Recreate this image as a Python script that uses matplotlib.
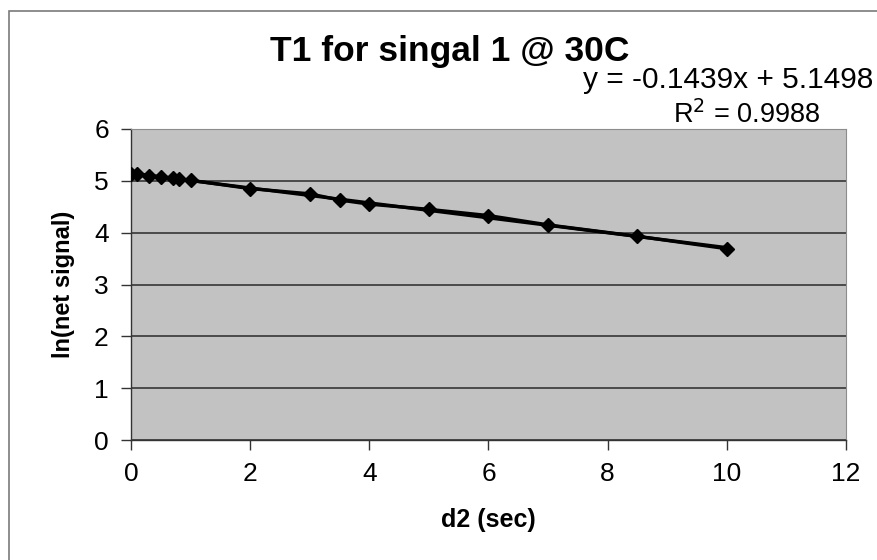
import matplotlib
matplotlib.use("Agg")
import matplotlib.pyplot as plt
from matplotlib.patches import Rectangle
import numpy as np

plt.rcParams['font.family'] = ['Liberation Sans', 'DejaVu Sans']

# Data
d2_sec = [0, 0.1, 0.3, 0.5, 0.7, 0.8, 1, 2, 3, 3.5, 4, 5, 6, 7, 8.5, 10]
ln_signal = [5.13, 5.13, 5.10, 5.07, 5.06, 5.03, 5.01, 4.85, 4.75, 4.63,
             4.55, 4.45, 4.33, 4.15, 3.93, 3.69]
slope = -0.1439
intercept = 5.1498
r2 = 0.9988
x_ticks = [0, 2, 4, 6, 8, 10, 12]
y_ticks = [0, 1, 2, 3, 4, 5, 6]

W, H = 878, 560
fig = plt.figure(figsize=(W / 100, H / 100), dpi=100)
fig.patch.set_facecolor('white')

# outer chart border (extends past right/bottom edges)
fig.patches.append(Rectangle((9 / W, -0.1), 1.2, 1 - 11 / H + 0.1,
                             transform=fig.transFigure, fill=False,
                             edgecolor='#7a7a7a', linewidth=1.2))

left, right, top, bottom = 131, 846, 129, 440
ax = fig.add_axes([left / W, 1 - bottom / H, (right - left) / W, (bottom - top) / H])
ax.set_facecolor('#c2c2c2')

ax.set_xlim(0, 12)
ax.set_ylim(0, 6)
ax.set_xticks(x_ticks)
ax.set_yticks(y_ticks)
ax.tick_params(axis='both', direction='out', length=7, width=1, color='#333333',
               labelsize=19, pad=9)
ax.yaxis.grid(True, color='#2a2a2a', linewidth=1.1)
ax.set_axisbelow(True)

for s in ['top', 'right']:
    ax.spines[s].set_color('#8c8c8c')
    ax.spines[s].set_linewidth(0.8)
for s in ['left', 'bottom']:
    ax.spines[s].set_color('#333333')
    ax.spines[s].set_linewidth(1.0)

# trendline
xt = np.array([min(d2_sec), max(d2_sec)])
ax.plot(xt, slope * xt + intercept, color='black', linewidth=2.4, zorder=3)
# data
ax.plot(d2_sec, ln_signal, color='black', linewidth=2.4, marker='D',
        markersize=7.5, zorder=4)

ax.set_xlabel('d2 (sec)', fontsize=18, fontweight='bold', labelpad=16)
ax.set_ylabel('ln(net signal)', fontsize=17, fontweight='bold', labelpad=14)

fig.text(450 / W, 1 - 51 / H, 'T1 for singal 1 @ 30C', fontsize=25.5,
         fontweight='bold', ha='center', va='center')
fig.text(583 / W, 1 - 80 / H, 'y = -0.1439x + 5.1498', fontsize=21.5,
         ha='left', va='center')
fig.text(673 / W, 1 - 115 / H, 'R$^2$ = 0.9988', fontsize=19.5,
         ha='left', va='center')

fig.savefig('out.png', dpi=100)
